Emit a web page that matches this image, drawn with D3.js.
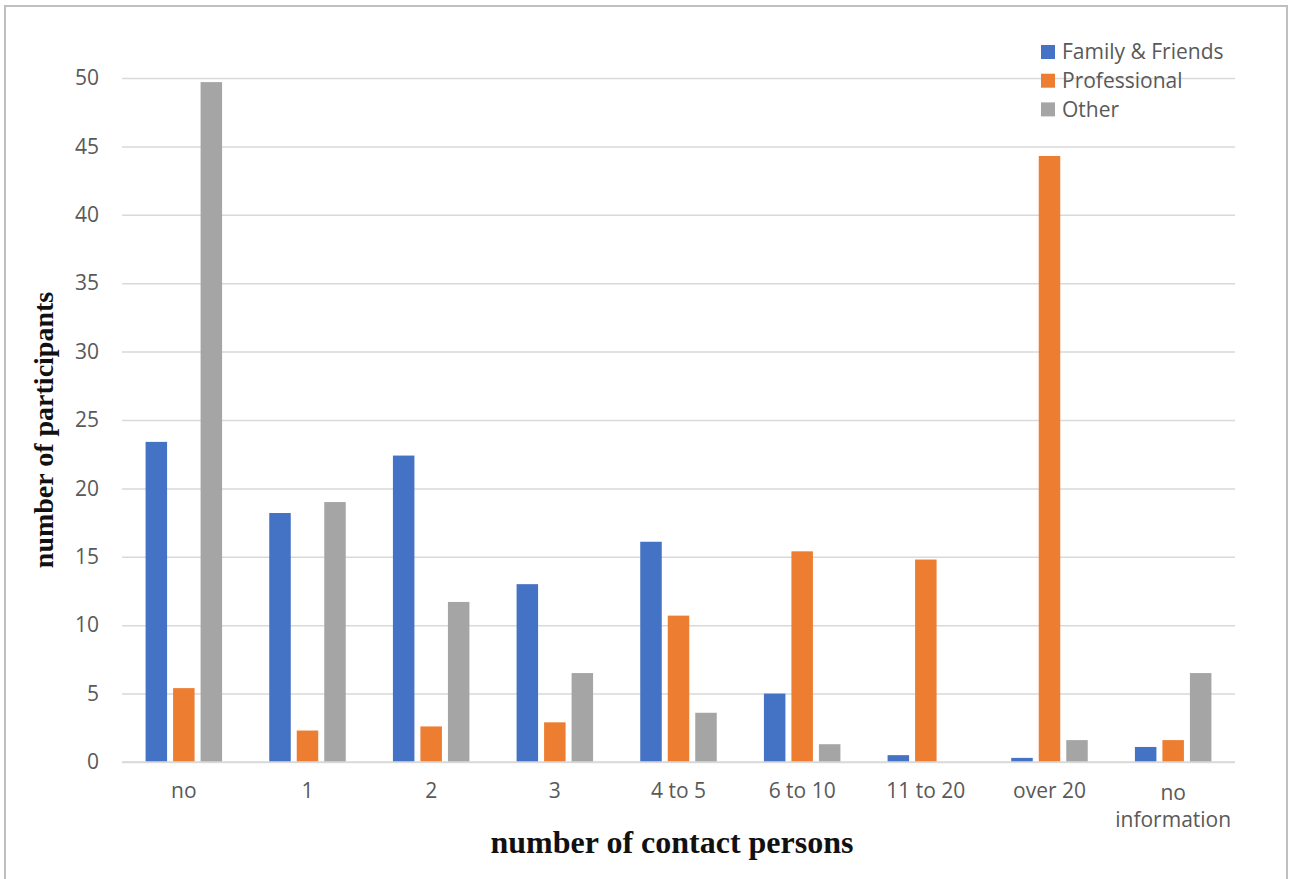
<!DOCTYPE html>
<html>
<head>
<meta charset="utf-8">
<script src="https://cdn.jsdelivr.net/npm/d3@7"></script>
<style>
  html, body { margin: 0; padding: 0; background: #ffffff; }
  svg { display: block; }
</style>
</head>
<body>
<svg id="chart" width="1290" height="879"></svg>
<script>
const categories = ["no", "1", "2", "3", "4 to 5", "6 to 10", "11 to 20", "over 20", "no information"];
const seriesNames = ["Family & Friends", "Professional", "Other"];
const familyFriends = [23.4, 18.2, 22.4, 13.0, 16.1, 5.0, 0.5, 0.3, 1.1];
const professional  = [5.4, 2.3, 2.6, 2.9, 10.7, 15.4, 14.8, 44.3, 1.6];
const other         = [49.7, 19.0, 11.7, 6.5, 3.6, 1.3, 0, 1.6, 6.5];
const yTicks = [0, 5, 10, 15, 20, 25, 30, 35, 40, 45, 50];
const colors = ["#4472C4", "#ED7D31", "#A5A5A5"];

(function () {
const seriesValues = [familyFriends, professional, other];
const data = categories.map((c, i) => ({
  cat: c,
  vals: seriesNames.map((s, j) => ({ key: s, value: seriesValues[j][i] }))
}));

const svg = d3.select("#chart");
const labelFont = "'Open Sans', sans-serif";
const labelSize = "21px";

// outer border
svg.append("rect")
  .attr("x", 5).attr("y", 6).attr("width", 1282).attr("height", 900)
  .attr("fill", "none").attr("stroke", "#BFBFBF").attr("stroke-width", 2);

const mLeft = 122, mRight = 1235, mTop = 78, mBottom = 762;

const x0 = d3.scaleBand().domain(categories).range([mLeft, mRight]).padding(0);
const y = d3.scaleLinear().domain([0, 50]).range([mBottom, mTop]);

const barW = 21.5, gap = 6;
const groupW = 3 * barW + 2 * gap;
const x1 = d3.scaleBand().domain(seriesNames)
  .range([x0.bandwidth() / 2 - groupW / 2, x0.bandwidth() / 2 + groupW / 2])
  .paddingInner(gap / (barW + gap)).paddingOuter(0);

// gridlines + y labels
const yAxis = d3.axisLeft(y).tickValues(yTicks).tickSize(-(mRight - mLeft)).tickPadding(23);
const gy = svg.append("g").attr("transform", `translate(${mLeft},0)`).call(yAxis);
gy.select(".domain").remove();
gy.selectAll(".tick line").attr("stroke", "#D9D9D9").attr("stroke-width", 1.5);
gy.selectAll(".tick text")
  .attr("fill", "#595959")
  .style("font-family", labelFont)
  .style("font-size", labelSize);

// bars
const groups = svg.append("g").selectAll("g")
  .data(data).join("g")
  .attr("transform", d => `translate(${x0(d.cat)},0)`);

groups.selectAll("rect")
  .data(d => d.vals).join("rect")
  .attr("x", d => x1(d.key))
  .attr("width", x1.bandwidth())
  .attr("y", d => y(d.value))
  .attr("height", d => mBottom - y(d.value))
  .attr("fill", (d, i) => colors[i]);

// x axis
const xAxis = d3.axisBottom(x0).tickSize(0).tickPadding(21);
const gx = svg.append("g").attr("transform", `translate(0,${mBottom})`).call(xAxis);
gx.select(".domain").remove();
gx.selectAll(".tick text")
  .attr("fill", "#595959")
  .style("font-family", labelFont)
  .style("font-size", labelSize)
  .each(function(d) {
    if (d === "no information") {
      const t = d3.select(this);
      t.text(null);
      t.attr("dy", null);
      t.append("tspan").attr("x", 0).attr("dy", 17).text("no");
      t.append("tspan").attr("x", 0).attr("dy", 27).text("information");
    }
  });

// baseline
svg.append("line")
  .attr("x1", mLeft).attr("x2", mRight)
  .attr("y1", mBottom).attr("y2", mBottom)
  .attr("stroke", "#D9D9D9").attr("stroke-width", 1.5);

// axis titles
svg.append("text")
  .attr("x", 672).attr("y", 853)
  .attr("text-anchor", "middle")
  .style("font-family", "'Liberation Serif', 'Times New Roman', serif")
  .style("font-weight", "bold")
  .style("font-size", "32px")
  .attr("fill", "#111")
  .text("number of contact persons");

svg.append("text")
  .attr("transform", "translate(53,430) rotate(-90)")
  .attr("text-anchor", "middle")
  .style("font-family", "'Liberation Serif', 'Times New Roman', serif")
  .style("font-weight", "bold")
  .style("font-size", "28px")
  .attr("fill", "#111")
  .text("number of participants");

// legend
const legend = svg.append("g").attr("transform", "translate(1041,52)");
const li = legend.selectAll("g").data(seriesNames).join("g")
  .attr("transform", (d, i) => `translate(0,${i * 28.7})`);
li.append("rect").attr("x", 0).attr("y", -7).attr("width", 14).attr("height", 14)
  .attr("fill", (d, i) => colors[i]);
li.append("text").attr("x", 21).attr("y", 0).attr("dy", "0.35em")
  .attr("fill", "#595959")
  .style("font-family", labelFont)
  .style("font-size", labelSize)
  .text(d => d);
})();
</script>
</body>
</html>
